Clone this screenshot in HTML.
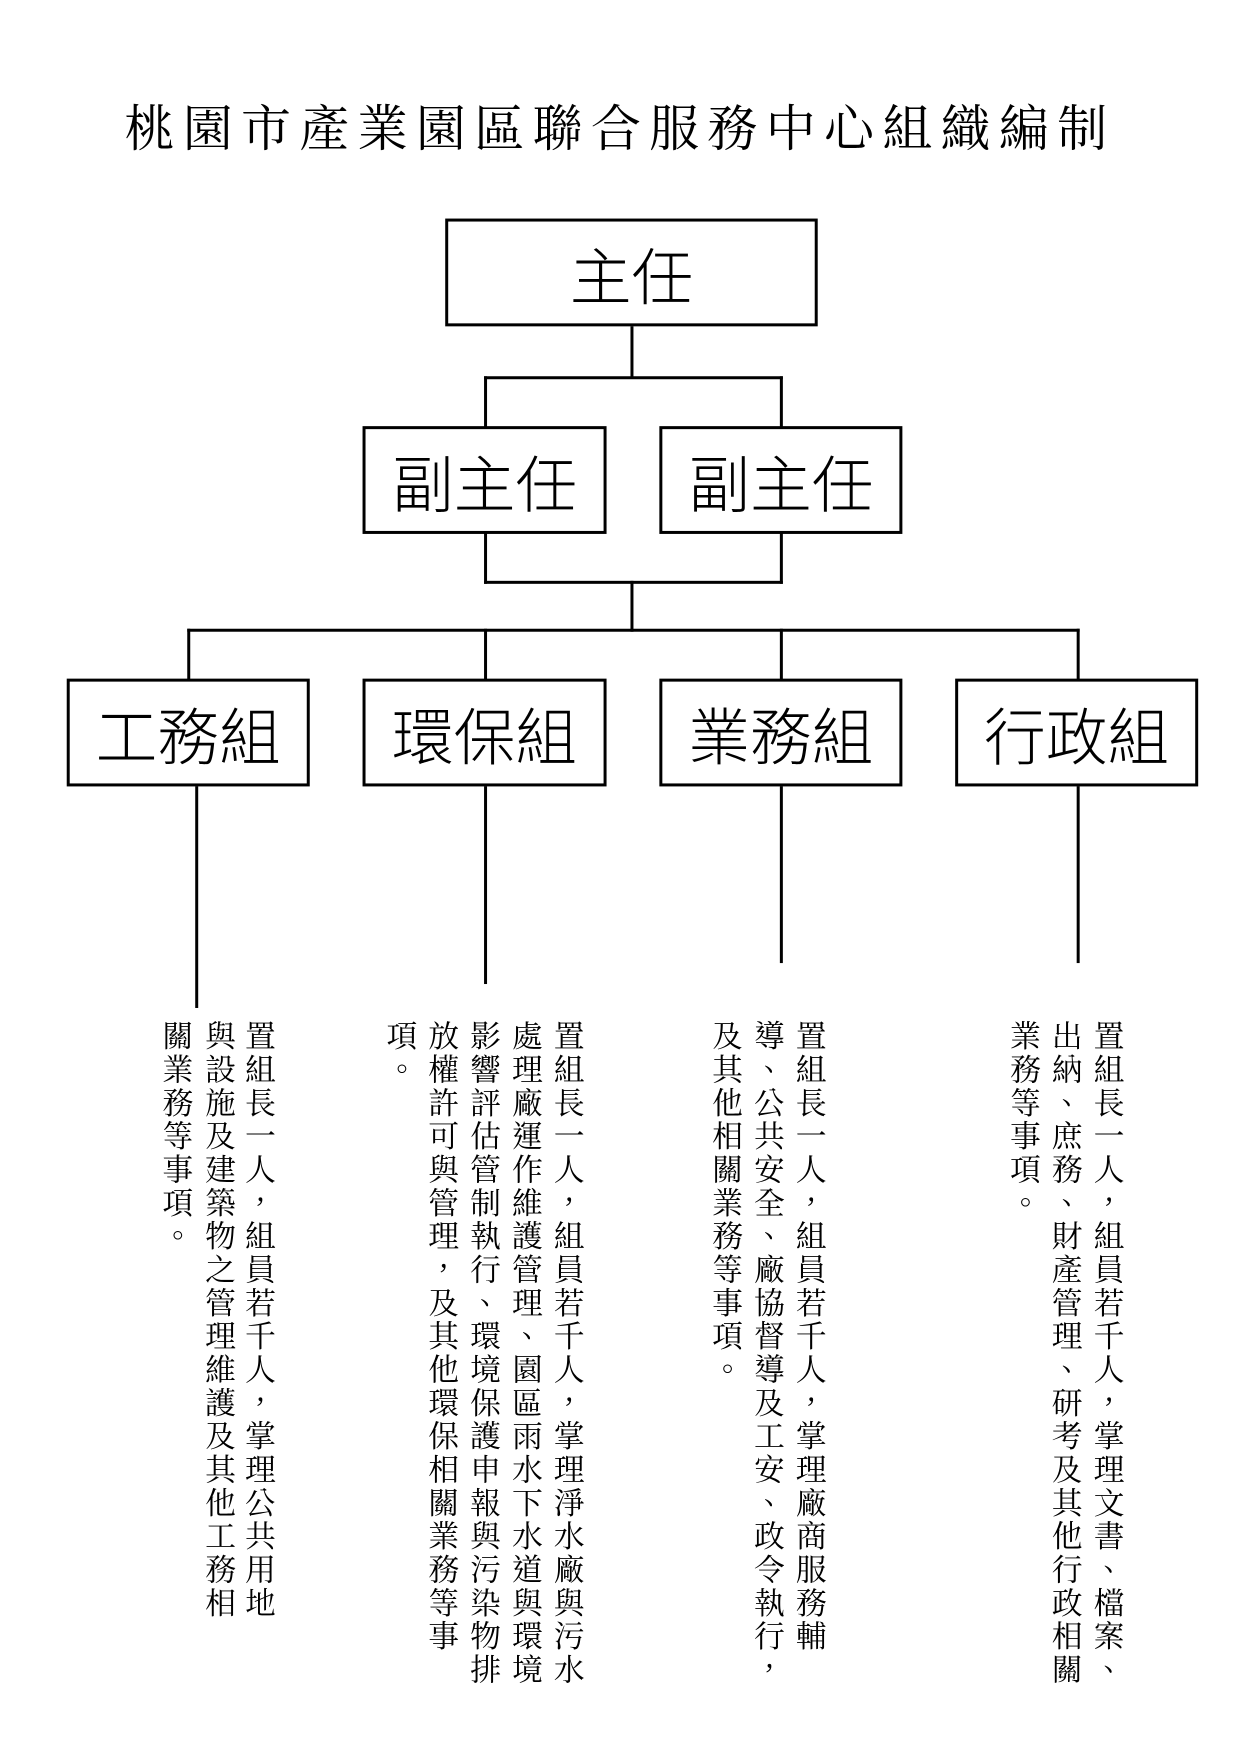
<!DOCTYPE html>
<html><head><meta charset="utf-8">
<style>
body{margin:0;background:#fff;}
#c{position:relative;width:1240px;height:1755px;overflow:hidden;background:#fff;}
#w{position:absolute;left:0;top:0;width:1240px;height:1755px;transform:scale(0.996,0.998);transform-origin:0 0;}
.t{position:absolute;left:0;width:1240px;top:96px;text-align:center;font-family:"Liberation Serif","Noto Serif CJK SC",serif;font-size:50px;letter-spacing:8.3px;color:#000;line-height:66px;}
.b{position:absolute;border:3px solid #000;box-sizing:border-box;display:flex;align-items:center;justify-content:center;font-family:"Liberation Sans","Noto Sans CJK TC",sans-serif;font-weight:300;font-size:62px;color:#000;}
.l{position:absolute;background:#000;}
.v{position:absolute;top:1022px;writing-mode:vertical-rl;font-family:"Liberation Serif","Noto Serif CJK TC",serif;font-size:31px;letter-spacing:2.4px;line-height:31px;width:31px;color:#000;white-space:nowrap;}
</style></head><body><div id="c">
<div class="t">桃園市產業園區聯合服務中心組織編制</div>
<div id="w">
<div class="b" style="left:447px;top:219px;width:374px;height:108px;">主任</div>
<div class="l" style="left:633px;top:327px;width:3px;height:51px;"></div>
<div class="l" style="left:486px;top:377px;width:300px;height:3px;"></div>
<div class="l" style="left:486px;top:377px;width:3px;height:52px;"></div>
<div class="l" style="left:783px;top:377px;width:3px;height:52px;"></div>

<div class="b" style="left:364px;top:427px;width:245px;height:108px;">副主任</div>
<div class="b" style="left:662px;top:427px;width:244px;height:108px;">副主任</div>
<div class="l" style="left:486px;top:534px;width:3px;height:51px;"></div>
<div class="l" style="left:783px;top:534px;width:3px;height:51px;"></div>
<div class="l" style="left:486px;top:582px;width:300px;height:3px;"></div>
<div class="l" style="left:633px;top:582px;width:3px;height:51px;"></div>
<div class="l" style="left:188px;top:630px;width:896px;height:3px;"></div>
<div class="l" style="left:188px;top:630px;width:3px;height:52px;"></div>
<div class="l" style="left:486px;top:630px;width:3px;height:52px;"></div>
<div class="l" style="left:783px;top:630px;width:3px;height:52px;"></div>
<div class="l" style="left:1081px;top:630px;width:3px;height:52px;"></div>

<div class="b" style="left:67px;top:680px;width:244px;height:108px;">工務組</div>
<div class="b" style="left:364px;top:680px;width:245px;height:108px;">環保組</div>
<div class="b" style="left:662px;top:680px;width:244px;height:108px;">業務組</div>
<div class="b" style="left:959px;top:680px;width:244px;height:108px;">行政組</div>

<div class="l" style="left:196px;top:788px;width:3px;height:222px;"></div>
<div class="l" style="left:486px;top:788px;width:3px;height:198px;"></div>
<div class="l" style="left:783px;top:788px;width:3px;height:177px;"></div>
<div class="l" style="left:1081px;top:788px;width:3px;height:177px;"></div>

<div class="v" style="left:243px;">置組長一人，組員若千人，掌理公共用地</div>
<div class="v" style="left:203px;">與設施及建築物之管理維護及其他工務相</div>
<div class="v" style="left:160px;">關業務等事項。</div>

<div class="v" style="left:553px;">置組長一人，組員若千人，掌理淨水廠與污水</div>
<div class="v" style="left:511px;">處理廠運作維護管理、園區雨水下水道與環境</div>
<div class="v" style="left:469px;">影響評估管制執行、環境保護申報與污染物排</div>
<div class="v" style="left:427px;">放權許可與管理，及其他環保相關業務等事</div>
<div class="v" style="left:385px;">項。</div>

<div class="v" style="left:796px;">置組長一人，組員若千人，掌理廠商服務輔</div>
<div class="v" style="left:754px;">導、公共安全、廠協督導及工安、政令執行，</div>
<div class="v" style="left:712px;">及其他相關業務等事項。</div>

<div class="v" style="left:1095px;">置組長一人，組員若千人，掌理文書、檔案、</div>
<div class="v" style="left:1053px;">出納、庶務、財產管理、研考及其他行政相關</div>
<div class="v" style="left:1011px;">業務等事項。</div>
</div>
</div></body></html>
